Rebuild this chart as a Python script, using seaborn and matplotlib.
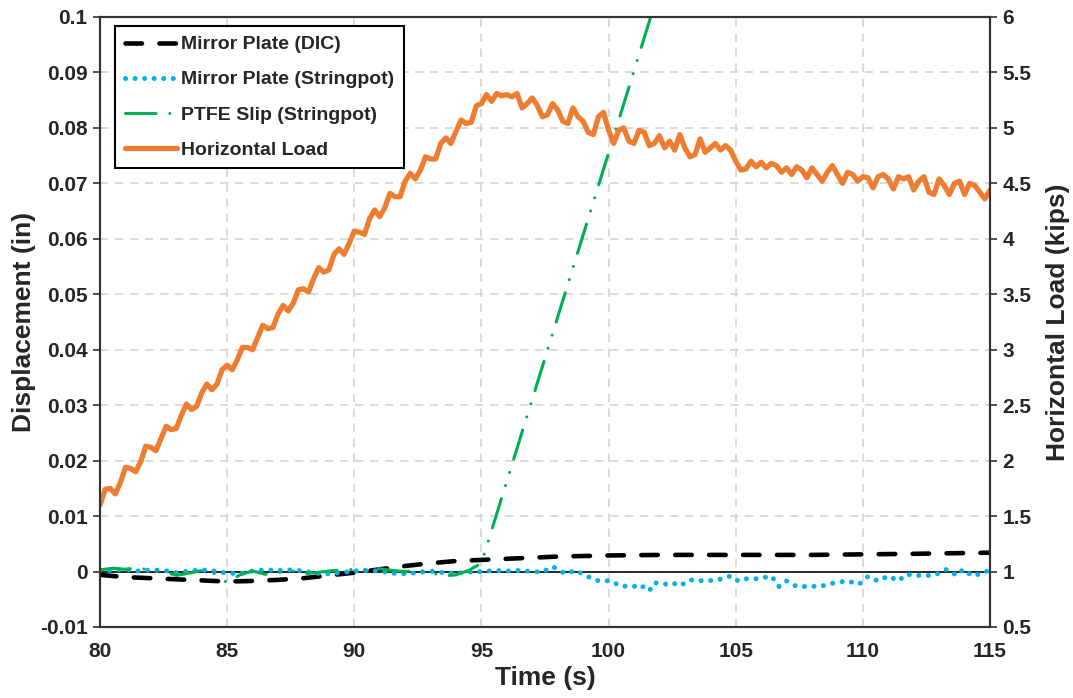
import numpy as np
import pandas as pd
import seaborn as sns
import matplotlib.pyplot as plt
from matplotlib.ticker import FuncFormatter, MultipleLocator

# ---- data ----
# horizontal load (kips), one reading every 0.2 s starting at 80 s
load_t0 = 80.0
load_dt = 0.2
load_kips = [
    1.60, 1.74, 1.75, 1.70, 1.80, 1.94, 1.93, 1.90, 1.99, 2.13,
    2.12, 2.09, 2.20, 2.31, 2.28, 2.29, 2.41, 2.51, 2.46, 2.49,
    2.61, 2.69, 2.64, 2.69, 2.82, 2.86, 2.82, 2.91, 3.02, 3.02,
    3.00, 3.11, 3.22, 3.19, 3.20, 3.32, 3.40, 3.35, 3.42, 3.54,
    3.55, 3.52, 3.64, 3.74, 3.70, 3.72, 3.86, 3.91, 3.86, 3.96,
    4.07, 4.06, 4.04, 4.18, 4.26, 4.20, 4.28, 4.41, 4.38, 4.38,
    4.52, 4.59, 4.54, 4.62, 4.74, 4.72, 4.72, 4.86, 4.91, 4.86,
    4.97, 5.07, 5.04, 5.05, 5.20, 5.22, 5.30, 5.24, 5.31, 5.29,
    5.30, 5.28, 5.31, 5.18, 5.22, 5.27, 5.20, 5.10, 5.12, 5.22,
    5.16, 5.06, 5.04, 5.18, 5.10, 5.06, 4.96, 4.94, 5.10, 5.14,
    4.98, 4.86, 4.98, 5.00, 4.88, 4.86, 4.98, 4.96, 4.84, 4.86,
    4.93, 4.82, 4.88, 4.80, 4.94, 4.82, 4.74, 4.76, 4.90, 4.78,
    4.82, 4.86, 4.80, 4.84, 4.80, 4.70, 4.62, 4.63, 4.70, 4.65,
    4.69, 4.64, 4.68, 4.66, 4.60, 4.64, 4.58, 4.65, 4.62, 4.55,
    4.64, 4.58, 4.52, 4.60, 4.66, 4.58, 4.50, 4.60, 4.58, 4.52,
    4.56, 4.55, 4.46, 4.56, 4.58, 4.54, 4.45, 4.56, 4.54, 4.56,
    4.44, 4.52, 4.56, 4.42, 4.40, 4.54, 4.48, 4.40, 4.50, 4.52,
    4.40, 4.50, 4.48, 4.42, 4.36, 4.44,
]
load_time = load_t0 + load_dt * np.arange(len(load_kips))

# mirror plate, DIC (in)
dic_time = [80, 81, 82, 83, 84, 85, 86, 87, 88, 89, 90, 91, 92, 93, 94,
            95, 96, 97, 98, 100, 102, 105, 108, 110, 112, 115]
dic_disp = [-0.0006, -0.0010, -0.0012, -0.0014, -0.0016, -0.0018, -0.0017,
            -0.0015, -0.0012, -0.0007, -0.0002, 0.0004, 0.0010, 0.0015,
            0.0019, 0.0021, 0.0023, 0.0025, 0.0027, 0.0029, 0.0030, 0.0030,
            0.0030, 0.0031, 0.0032, 0.0034]

# mirror plate, stringpot (in)
sp_time = [80, 80.5, 81, 81.5, 82, 82.5, 83, 83.5, 84, 84.5, 85, 85.5, 86,
           86.5, 87, 87.5, 88, 88.5, 89, 89.5, 90, 90.5, 91, 91.5, 92, 92.5,
           93, 93.5, 94, 94.5, 95, 95.5, 96, 96.5, 97, 97.4, 97.8, 98.0,
           98.3, 98.7, 99.1, 99.5, 100.1, 100.45, 101.0, 101.2, 101.6, 101.8,
           102.2, 102.5, 102.8, 103.2, 103.8, 104.3, 104.8, 105.1, 105.4,
           105.9, 106.4, 106.7, 107.0, 107.4, 107.9, 108.4, 108.9, 109.4,
           109.85, 110.2, 110.6, 111.0, 111.4, 111.7, 112.2, 112.8, 113.3,
           113.7, 113.95, 114.3, 114.7, 115.0]
sp_disp = [0.0003, 0.0002, 0.0004, 0.0001, 0.0003, 0.0002, -0.0002, 0.0001,
           0.0003, 0.0001, -0.0003, -0.0004, 0.0001, 0.0003, 0.0002, 0.0003,
           0.0001, -0.0003, -0.0004, -0.0002, 0.0001, 0.0002, 0.0001, -0.0003,
           -0.0004, -0.0002, 0.0001, -0.0002, -0.0003, -0.0001, 0.0000, 0.0002,
           0.0001, 0.0002, 0.0000, -0.0001, 0.0009, 0.0004, -0.0004, 0.0002,
           -0.0007, -0.0016, -0.0017, -0.0026, -0.0027, -0.0023, -0.0035,
           -0.0020, -0.0023, -0.0020, -0.0026, -0.0015, -0.0017, -0.0015,
           -0.0008, -0.0017, -0.0013, -0.0013, -0.0008, -0.0027, -0.0017,
           -0.0027, -0.0027, -0.0026, -0.0020, -0.0017, -0.0023, -0.0009,
           -0.0017, -0.0008, -0.0017, -0.0005, -0.0007, -0.0007, 0.0004,
           -0.0007, 0.0004, -0.0008, -0.0003, 0.0003]

# PTFE slip, stringpot (in)
ptfe_time = [80, 80.5, 81, 81.5, 82, 82.5, 83, 83.5, 84, 84.5, 85, 85.5, 86,
             86.5, 87, 87.5, 88, 88.5, 89, 89.5, 90, 90.5, 91, 91.5, 92, 92.5,
             93, 93.5, 94, 94.5, 95, 96, 97, 98, 99, 100, 101, 102]
ptfe_disp = [0.0003, 0.0006, 0.0004, 0.0007, 0.0002, 0.0000, -0.0007, -0.0003,
             0.0002, -0.0004, -0.0020, -0.0006, 0.0001, -0.0005, -0.0002,
             0.0002, -0.0004, -0.0002, 0.0001, 0.0003, 0.0004, 0.0003, 0.0005,
             0.0002, 0.0000, 0.0003, -0.0002, -0.0008, -0.0006, 0.0002, 0.0015,
             0.0163, 0.0311, 0.0459, 0.0607, 0.0755, 0.0903, 0.1051]

# ---- plot ----
sns.set_style("whitegrid")
plt.rcParams["font.family"] = ["Liberation Sans", "DejaVu Sans"]
plt.rcParams["font.weight"] = "bold"

fig = plt.figure(figsize=(10.73, 6.98), dpi=100)
ax = fig.add_axes([100 / 1073, 1 - 627 / 698, 890 / 1073, 610 / 698])
ax2 = ax.twinx()

sns.lineplot(x=dic_time, y=dic_disp, ax=ax, color="black", lw=3.3,
             label="Mirror Plate (DIC)", legend=False)
ax.lines[-1].set_dashes((3.6, 3.8))
ax.lines[-1].set_dash_capstyle("round")

sns.lineplot(x=sp_time, y=sp_disp, ax=ax, color="#00B0F0", lw=3.6,
             label="Mirror Plate (Stringpot)", legend=False)
ax.lines[-1].set_dashes((0.01, 1.9))
ax.lines[-1].set_dash_capstyle("round")

sns.lineplot(x=ptfe_time, y=ptfe_disp, ax=ax, color="#00B050", lw=2.2,
             label="PTFE Slip (Stringpot)", legend=False)
ax.lines[-1].set_dashes((10, 4.5, 0.01, 4.5, 0.01, 4.5))
ax.lines[-1].set_dash_capstyle("round")

ax.axhline(0, color="#1a1a1a", lw=1.3, zorder=1)

sns.lineplot(x=load_time, y=load_kips, ax=ax2, color="#ED7D31", lw=3.8,
             label="Horizontal Load", legend=False)

ax.set_xlim(80, 115)
ax.set_ylim(-0.01, 0.1)
ax2.set_ylim(0.5, 6)
ax.xaxis.set_major_locator(MultipleLocator(5))
ax.yaxis.set_major_locator(MultipleLocator(0.01))
ax2.yaxis.set_major_locator(MultipleLocator(0.5))
fmt = FuncFormatter(lambda v, p: "%g" % round(v, 4))
ax.yaxis.set_major_formatter(fmt)
ax2.yaxis.set_major_formatter(fmt)

ax.grid(True, color="#d4d4d4", lw=1.2, ls=(0, (5, 4)))
ax2.grid(False)
for a in (ax, ax2):
    for s in a.spines.values():
        s.set_color("#333333")
        s.set_linewidth(1.5)
ax.tick_params(axis="y", left=True, length=5, width=1.2, color="#333333",
               labelsize=15, pad=4)
ax.tick_params(axis="x", bottom=False, labelsize=15, pad=7)
ax2.tick_params(axis="y", right=True, length=5, width=1.2, color="#333333",
                labelsize=15, pad=4)

ax.set_xlabel("Time (s)", fontsize=19, fontweight="bold", labelpad=4)
ax.set_ylabel("Displacement (in)", fontsize=19, fontweight="bold", labelpad=3)
ax2.set_ylabel("Horizontal Load (kips)", fontsize=19, fontweight="bold",
               labelpad=10)

handles = ax.lines[:3] + ax2.lines[:1]
labels = [h.get_label() for h in handles]
leg = ax2.legend(handles, labels, loc="upper left",
                 bbox_to_anchor=(15 / 890, 1 - 9 / 610), borderaxespad=0,
                 fontsize=14, frameon=True, fancybox=False, framealpha=1,
                 edgecolor="black", handlelength=2.7, handletextpad=0.2,
                 labelspacing=0.9, borderpad=0.5)
leg.get_frame().set_linewidth(1.5)
for t in leg.get_texts():
    t.set_fontweight("bold")

fig.savefig("out.png", dpi=100)
